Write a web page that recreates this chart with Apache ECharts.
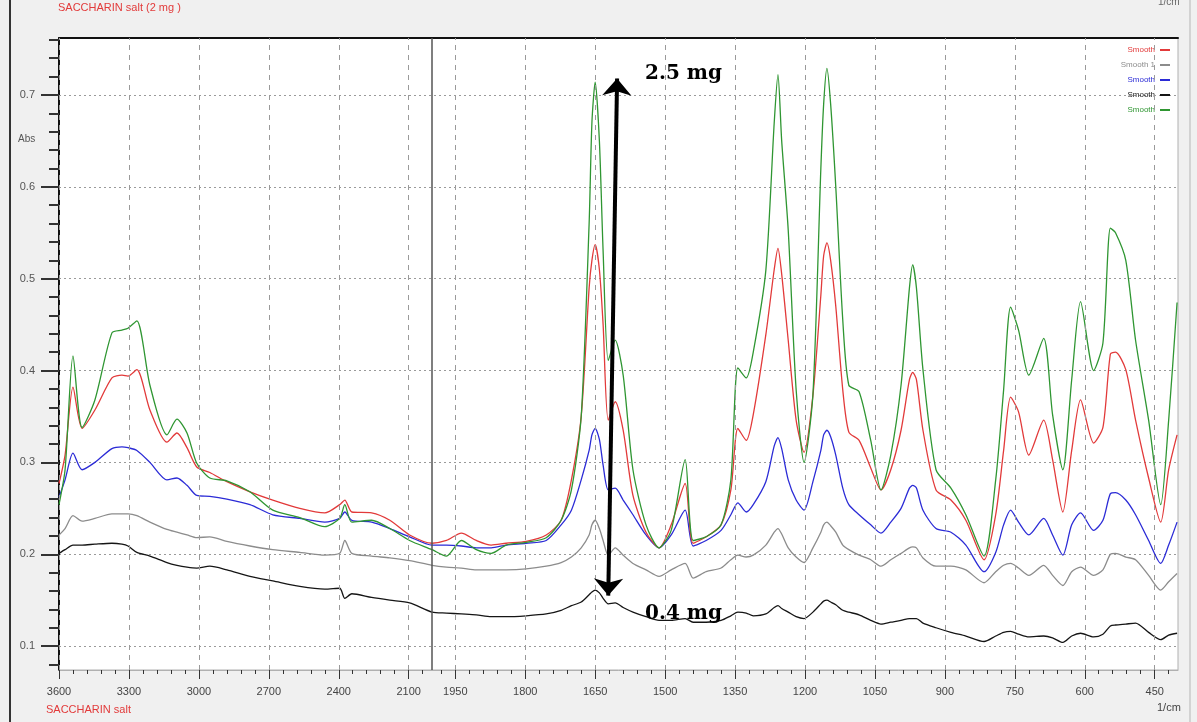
<!DOCTYPE html>
<html>
<head>
<meta charset="utf-8">
<title>SACCHARIN salt</title>
<script src="https://cdn.jsdelivr.net/npm/echarts@6/dist/echarts.min.js"></script>
<style>
  html, body { margin: 0; padding: 0; background: #f0f0f0; }
  #chart { width: 1197px; height: 722px; }
</style>
</head>
<body>
<div id="chart"></div>
<script>
// wavenumbers (1/cm) shared by the five spectra
var wavenumbers = [
  3600, 3574, 3540, 3501, 3446, 3373, 3330, 3304, 3266, 3210, 3137, 3094, 3051, 3009,
  2953, 2880, 2781, 2683, 2567, 2460, 2396, 2374, 2344, 2259, 2181, 2096, 2000,
  1969, 1937, 1905, 1873, 1841, 1798, 1755, 1723, 1701, 1680,
  1663, 1657, 1650, 1641, 1633, 1622, 1607, 1590, 1569, 1541, 1513, 1487,
  1457, 1440, 1412, 1380, 1359, 1344, 1326, 1311, 1284, 1266, 1258, 1250,
  1236, 1219, 1202, 1183, 1166, 1160, 1153, 1145, 1134, 1119, 1106, 1084,
  1059, 1037, 1016, 994, 976, 969, 961, 947, 919, 887, 855, 816,
  791, 774, 759, 742, 720, 688, 669, 647, 628, 609,
  581, 561, 545, 534, 512, 491, 463, 437, 420, 402
];

var absGreen = [
  0.254, 0.292, 0.416, 0.338, 0.368, 0.441, 0.444, 0.446, 0.454, 0.384, 0.330, 0.347, 0.332, 0.299,
  0.283, 0.280, 0.268, 0.248, 0.240, 0.230, 0.239, 0.254, 0.235, 0.237, 0.228, 0.215, 0.205,
  0.198, 0.215, 0.205, 0.201, 0.210, 0.213, 0.218, 0.237, 0.270, 0.350,
  0.560, 0.670, 0.714, 0.650, 0.530, 0.411, 0.433, 0.395, 0.292, 0.232, 0.207, 0.226,
  0.303, 0.215, 0.219, 0.232, 0.281, 0.403, 0.392, 0.420, 0.509, 0.670, 0.722, 0.650,
  0.553, 0.379, 0.300, 0.374, 0.620, 0.690, 0.729, 0.690, 0.600, 0.455, 0.384, 0.377,
  0.324, 0.270, 0.308, 0.384, 0.490, 0.515, 0.490, 0.401, 0.292, 0.272, 0.243, 0.198,
  0.281, 0.379, 0.469, 0.444, 0.395, 0.435, 0.352, 0.292, 0.390, 0.475,
  0.400, 0.430, 0.555, 0.550, 0.520, 0.433, 0.346, 0.254, 0.346, 0.474
];

var absRed = [
  0.277, 0.308, 0.382, 0.337, 0.357, 0.392, 0.395, 0.394, 0.401, 0.357, 0.322, 0.332, 0.316, 0.295,
  0.289, 0.279, 0.268, 0.259, 0.250, 0.245, 0.254, 0.259, 0.246, 0.245, 0.237, 0.221, 0.212,
  0.215, 0.223, 0.215, 0.210, 0.212, 0.214, 0.221, 0.237, 0.281, 0.350,
  0.490, 0.520, 0.537, 0.510, 0.450, 0.346, 0.366, 0.335, 0.264, 0.224, 0.207, 0.232,
  0.277, 0.212, 0.219, 0.232, 0.270, 0.337, 0.324, 0.352, 0.439, 0.510, 0.533, 0.505,
  0.433, 0.346, 0.311, 0.373, 0.482, 0.525, 0.539, 0.520, 0.470, 0.379, 0.333, 0.324,
  0.294, 0.270, 0.292, 0.335, 0.390, 0.398, 0.390, 0.335, 0.270, 0.259, 0.237, 0.194,
  0.243, 0.313, 0.371, 0.355, 0.308, 0.346, 0.303, 0.246, 0.313, 0.368,
  0.321, 0.338, 0.418, 0.420, 0.401, 0.346, 0.283, 0.235, 0.292, 0.330
];

var absBlue = [
  0.262, 0.281, 0.310, 0.292, 0.300, 0.315, 0.317, 0.316, 0.313, 0.300, 0.281, 0.283, 0.275, 0.264,
  0.263, 0.260, 0.254, 0.243, 0.239, 0.235, 0.239, 0.246, 0.237, 0.235, 0.228, 0.219, 0.210,
  0.210, 0.209, 0.207, 0.207, 0.210, 0.212, 0.215, 0.232, 0.248, 0.281,
  0.313, 0.330, 0.337, 0.325, 0.297, 0.270, 0.272, 0.259, 0.243, 0.221, 0.207, 0.221,
  0.248, 0.209, 0.215, 0.226, 0.243, 0.256, 0.246, 0.254, 0.279, 0.318, 0.327, 0.315,
  0.281, 0.259, 0.248, 0.279, 0.313, 0.330, 0.335, 0.328, 0.308, 0.272, 0.254, 0.243,
  0.232, 0.223, 0.235, 0.250, 0.272, 0.275, 0.272, 0.248, 0.228, 0.224, 0.210, 0.181,
  0.202, 0.232, 0.248, 0.235, 0.221, 0.239, 0.221, 0.199, 0.232, 0.245,
  0.226, 0.237, 0.266, 0.267, 0.259, 0.243, 0.215, 0.190, 0.210, 0.235
];

var absGrey = [
  0.221, 0.228, 0.242, 0.236, 0.239, 0.244, 0.244, 0.244, 0.242, 0.235, 0.227, 0.224, 0.221, 0.218,
  0.219, 0.214, 0.209, 0.205, 0.202, 0.199, 0.201, 0.215, 0.201, 0.198, 0.196, 0.193, 0.188,
  0.186, 0.185, 0.183, 0.183, 0.183, 0.184, 0.187, 0.191, 0.197, 0.207,
  0.221, 0.232, 0.237, 0.228, 0.215, 0.199, 0.207, 0.199, 0.190, 0.183, 0.176, 0.183,
  0.190, 0.174, 0.181, 0.185, 0.194, 0.199, 0.197, 0.199, 0.210, 0.224, 0.228, 0.222,
  0.207, 0.197, 0.191, 0.207, 0.224, 0.232, 0.235, 0.231, 0.224, 0.210, 0.205, 0.199,
  0.194, 0.187, 0.194, 0.201, 0.207, 0.208, 0.207, 0.196, 0.187, 0.187, 0.183, 0.169,
  0.181, 0.188, 0.190, 0.185, 0.177, 0.188, 0.177, 0.166, 0.181, 0.186,
  0.177, 0.183, 0.200, 0.201, 0.197, 0.194, 0.177, 0.161, 0.170, 0.179
];

var absBlack = [
  0.201, 0.205, 0.210, 0.210, 0.211, 0.212, 0.211, 0.209, 0.202, 0.198, 0.191, 0.188, 0.186, 0.185,
  0.187, 0.183, 0.176, 0.171, 0.165, 0.162, 0.163, 0.152, 0.157, 0.153, 0.150, 0.147, 0.137,
  0.136, 0.135, 0.134, 0.132, 0.132, 0.133, 0.135, 0.139, 0.144, 0.148,
  0.156, 0.159, 0.161, 0.158, 0.152, 0.146, 0.147, 0.142, 0.137, 0.132, 0.128, 0.128,
  0.130, 0.126, 0.126, 0.128, 0.133, 0.137, 0.136, 0.133, 0.135, 0.142, 0.144, 0.141,
  0.137, 0.132, 0.130, 0.137, 0.146, 0.149, 0.150, 0.148, 0.145, 0.139, 0.137, 0.134,
  0.128, 0.124, 0.126, 0.128, 0.130, 0.130, 0.130, 0.125, 0.120, 0.115, 0.111, 0.105,
  0.111, 0.115, 0.116, 0.113, 0.110, 0.111, 0.109, 0.104, 0.111, 0.114,
  0.110, 0.113, 0.122, 0.123, 0.124, 0.125, 0.115, 0.107, 0.112, 0.114
];

var upperTicks = [3600, 3300, 3000, 2700, 2400, 2100];
var lowerTicks = [1950, 1800, 1650, 1500, 1350, 1200, 1050, 900, 750, 600, 450];
var absTicks = [0.1, 0.2, 0.3, 0.4, 0.5, 0.6, 0.7];

// the axis breaks at 2000 1/cm: everything above it is drawn at half scale
function toAxis(w) { return w > 2000 ? 2000 + (w - 2000) / 2 : w; }
function fromAxis(u) { return u > 2000 ? 2000 + (u - 2000) * 2 : u; }

var majorX = upperTicks.concat(lowerTicks).map(toAxis);
var minorX = [];
for (var w = 3540; w > 2000; w -= 60) if (upperTicks.indexOf(w) < 0) minorX.push(toAxis(w));
for (var w2 = 1980; w2 >= 410; w2 -= 30) if (lowerTicks.indexOf(w2) < 0) minorX.push(w2);
var minorY = [];
for (var k = 4; k <= 38; k++) if (k % 5) minorY.push(+(k * 0.02).toFixed(2));

function pairs(vals) {
  return wavenumbers.map(function (w, i) { return [toAxis(w), vals[i]]; });
}

var axisFont = 'Liberation Sans Narrow, Liberation Sans, Arial, sans-serif';
var X_MIN = 400, X_MAX = 2800, Y_MIN = 0.074, Y_MAX = 0.762;

var colors = { red: '#e23a3a', grey: '#8c8c8c', blue: '#2b2bd6', black: '#151515', green: '#2f9632' };

function spectrum(name, vals, color) {
  return {
    name: name, type: 'line', data: pairs(vals), showSymbol: false, smooth: 0.25,
    lineStyle: { color: color, width: 1.3 }, itemStyle: { color: color }, z: 3
  };
}

var myChart = echarts.init(document.getElementById('chart'));

var option = {
  animation: false,
  backgroundColor: '#f0f0f0',
  grid: { left: 59, right: 19, top: 38, bottom: 52, show: true, backgroundColor: '#fff', borderColor: '#b0b0b0', borderWidth: 1 },
  legend: {
    orient: 'vertical', right: 22, top: 40, itemGap: 5, itemWidth: 10, itemHeight: 2, icon: 'rect', align: 'right',
    textStyle: { fontSize: 8, fontFamily: 'Liberation Sans, Arial, sans-serif', lineHeight: 10 },
    formatter: function (n) { return n === 'Smooth 1' ? 'Smooth 1' : 'Smooth'; },
    data: [
      { name: 'Smooth', textStyle: { color: colors.red } },
      { name: 'Smooth 1', textStyle: { color: colors.grey } },
      { name: 'Smooth 2', textStyle: { color: colors.blue } },
      { name: 'Smooth 3', textStyle: { color: colors.black } },
      { name: 'Smooth 4', textStyle: { color: colors.green } }
    ]
  },
  xAxis: [
    {
      type: 'value', min: X_MIN, max: X_MAX, inverse: true, position: 'bottom',
      axisLine: { show: true, lineStyle: { color: '#b0b0b0', width: 1 } },
      axisTick: { show: true, customValues: majorX, length: 9, lineStyle: { color: '#333', width: 1 } },
      axisLabel: {
        customValues: majorX, margin: 16, color: '#444', fontSize: 11, fontFamily: axisFont,
        formatter: function (u) { return String(Math.round(fromAxis(u))); }
      },
      splitLine: { show: false }
    },
    {
      type: 'value', min: X_MIN, max: X_MAX, inverse: true, position: 'bottom',
      axisLine: { show: false },
      axisTick: { show: true, customValues: minorX, length: 4, lineStyle: { color: '#333', width: 1 } },
      axisLabel: { show: false }, splitLine: { show: false }
    },
    {
      type: 'value', min: X_MIN, max: X_MAX, inverse: true, position: 'top',
      axisLine: { show: true, lineStyle: { color: '#111', width: 2 } },
      axisTick: { show: false }, axisLabel: { show: false }, splitLine: { show: false }
    }
  ],
  yAxis: [
    {
      type: 'value', min: Y_MIN, max: Y_MAX, splitNumber: 7, position: 'left',
      axisLine: { show: true, lineStyle: { color: '#111', width: 2 } },
      axisTick: { show: true, customValues: absTicks, length: 18, lineStyle: { color: '#333', width: 2 } },
      axisLabel: {
        customValues: absTicks, margin: 24, color: '#555', fontSize: 11, fontFamily: axisFont,
        formatter: function (v) { return v.toFixed(1); }
      },
      splitLine: { show: true, lineStyle: { color: '#9a9a9a', type: [2, 3], width: 1 } }
    },
    {
      type: 'value', min: Y_MIN, max: Y_MAX, position: 'left',
      axisLine: { show: false },
      axisTick: { show: true, customValues: minorY, length: 10, lineStyle: { color: '#333', width: 2 } },
      axisLabel: { show: false }, splitLine: { show: false }
    }
  ],
  series: [
    {
      name: 'grid', type: 'line', data: [], z: 1, silent: true,
      markLine: {
        silent: true, symbol: 'none', label: { show: false }, animation: false,
        lineStyle: { color: '#9a9a9a', type: [5, 5], width: 1 },
        data: majorX.map(function (u) { return { xAxis: u }; }).concat([
          { xAxis: toAxis(2000), lineStyle: { color: '#555', type: 'solid', width: 1.5 } }
        ])
      }
    },
    spectrum('Smooth 3', absBlack, colors.black),
    spectrum('Smooth 1', absGrey, colors.grey),
    spectrum('Smooth 2', absBlue, colors.blue),
    spectrum('Smooth', absRed, colors.red),
    spectrum('Smooth 4', absGreen, colors.green),
    {
      name: 'arrow', type: 'line', data: [], z: 5, silent: true,
      markLine: {
        silent: true, symbol: ['arrow', 'arrow'], symbolSize: [22, 17], label: { show: false }, animation: false,
        lineStyle: { color: '#000', type: 'solid', width: 4 },
        data: [[{ coord: [toAxis(1603), 0.718] }, { coord: [toAxis(1622), 0.155] }]]
      }
    }
  ],
  graphic: [
    { type: 'line', silent: true, shape: { x1: 10, y1: 0, x2: 10, y2: 722 }, style: { stroke: '#333', lineWidth: 2 } },
    { type: 'line', silent: true, shape: { x1: 1190, y1: 0, x2: 1190, y2: 722 }, style: { stroke: '#b5b5b5', lineWidth: 1 } },
    { type: 'text', left: 58, top: 2, style: { text: 'SACCHARIN salt (2 mg )', fill: '#e23a3a', font: '11px Liberation Sans, Arial, sans-serif' } },
    { type: 'text', left: 1158, top: -3, style: { text: '1/cm', fill: '#666', font: '10px Liberation Sans, Arial, sans-serif' } },
    { type: 'text', left: 18, top: 134, style: { text: 'Abs', fill: '#555', font: '10px Liberation Sans, Arial, sans-serif' } },
    { type: 'text', left: 46, top: 704, style: { text: 'SACCHARIN salt', fill: '#e23a3a', font: '11px Liberation Sans, Arial, sans-serif' } },
    { type: 'text', left: 1157, top: 702, style: { text: '1/cm', fill: '#444', font: '11px Liberation Sans Narrow, Liberation Sans, Arial, sans-serif' } },
    { type: 'text', left: 645, top: 64, z: 10, style: { text: '2.5 mg', fill: '#000', font: 'bold 20px DejaVu Serif, serif' } },
    { type: 'text', left: 645, top: 604, z: 10, style: { text: '0.4 mg', fill: '#000', font: 'bold 20px DejaVu Serif, serif' } }
  ]
};

myChart.setOption(option);
</script>
</body>
</html>
